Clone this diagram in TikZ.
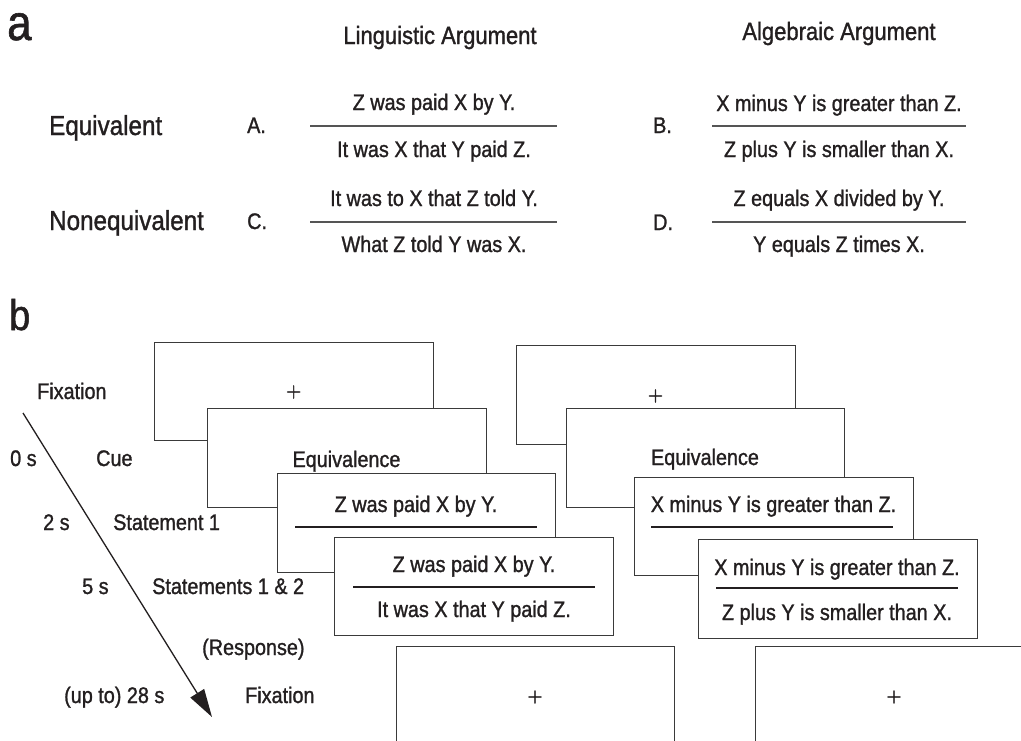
\documentclass[tikz,border=0pt]{standalone}
\usepackage{fontspec}
\setmainfont{Liberation Sans}[FakeStretch=0.88,FakeBold=1.2]
\newfontfamily\plusfont{Latin Modern Roman}[FakeBold=1.5]
\usetikzlibrary{arrows.meta}
\definecolor{ink}{HTML}{231F20}
\definecolor{framec}{HTML}{3A3A3A}
\definecolor{sepc}{HTML}{555555}
\begin{document}
\begin{tikzpicture}[x=1pt,y=-1pt,
  txt/.style={font=\fontsize{22.5}{27}\selectfont, text=ink, inner sep=0pt, anchor=base},
  txtl/.style={txt, anchor=base west},
  hdr/.style={txt, font=\fontsize{25}{30}\selectfont},
  cat/.style={txtl, font=\fontsize{27.5}{33}\selectfont},
  panel/.style={txtl, font=\fontsize{46}{50}\selectfont},
  plus/.style={font=\plusfont\fontsize{21}{25}\selectfont, text=ink, inner sep=0pt, anchor=center},
  scr/.style={draw=framec, line width=1.3pt, fill=white, minimum width=279pt, minimum height=98pt, inner sep=0pt, anchor=north west},
  boxline/.style={draw=ink, line width=2pt},
  sepline/.style={draw=sepc, line width=1.6pt}
]
\useasboundingbox (0,0) rectangle (1021,740);
\clip (0,0) rectangle (1021,740);
\fill[white] (0,0) rectangle (1021,740);

% ---------------- panel a ----------------
\node[panel, font=\fontsize{50}{54}\selectfont] (pa) at (7,40) {a};
\node[hdr] (hl) at (440,44) {Linguistic Argument};
\node[hdr] (ha) at (839,40) {Algebraic Argument};

\node[cat] (eq) at (49,135) {Equivalent};
\node[cat] (neq) at (49,230) {Nonequivalent};

\node[txtl] (la) at (247,133) {A.};
\node[txtl] (lc) at (247,229) {C.};
\node[txtl] (lb) at (653,133) {B.};
\node[txtl] (ld) at (653,230) {D.};

\node[txt] (a1) at (434,110) {Z was paid X by Y.};
\node[txt] (a2) at (434,157) {It was X that Y paid Z.};
\draw[sepline] (310,126) -- (557,126);
\node[txt] (c1) at (434,206) {It was to X that Z told Y.};
\node[txt] (c2) at (434,252) {What Z told Y was X.};
\draw[sepline] (310,222) -- (557,222);

\node[txt] (b1) at (839,111) {X minus Y is greater than Z.};
\node[txt] (b2) at (839,157) {Z plus Y is smaller than X.};
\draw[sepline] (712,126) -- (966,126);
\node[txt] (d1) at (839,206) {Z equals X divided by Y.};
\node[txt] (d2) at (839,252) {Y equals Z times X.};
\draw[sepline] (712,222) -- (966,222);

% ---------------- panel b ----------------
\node[panel, font=\fontsize{43}{47}\selectfont] (pb) at (9,330) {b};

\node[txtl] (fix1) at (37,399) {Fixation};
\node[txtl] (t0) at (10,466) {0 s};
\node[txtl] (cue) at (96,466) {Cue};
\node[txtl] (t2) at (43,530) {2 s};
\node[txtl] (st1) at (113,530) {Statement 1};
\node[txtl] (t5) at (82,594) {5 s};
\node[txtl] (st12) at (152,594) {Statements 1 \& 2};
\node[txtl] (resp) at (202,655) {(Response)};
\node[txtl] (t28) at (64,703) {(up to) 28 s};
\node[txtl] (fix2) at (245,703) {Fixation};

\coordinate (tstart) at (23,413);
\coordinate (tend) at (212,717);
\draw[ink, line width=1.3pt, -{Triangle[length=28pt,width=16pt]}] (tstart) -- (tend);

% left stack
\node[scr, minimum height=98pt] (L1) at (154,342) {};
\node[plus] (L1p) at (293.7,392) {+};
\node[scr, minimum height=99pt] (L2) at (207,408) {};
\node[txt] (L2t) at (346.5,467) {Equivalence};
\node[scr, minimum width=278pt, minimum height=99pt] (L3) at (277,473) {};
\node[txt] (L3t) at (416,512) {Z was paid X by Y.};
\draw[boxline] (295,527) -- (537,527);
\node[scr, minimum height=98pt] (L4) at (334,537) {};
\node[txt] (L4t1) at (474,572) {Z was paid X by Y.};
\draw[boxline] (353,587) -- (595,587);
\node[txt] (L4t2) at (474,617) {It was X that Y paid Z.};
\node[scr, minimum width=278pt, minimum height=120pt] (L5) at (396,646) {};
\node[plus] (L5p) at (535,697) {+};

% right stack
\node[scr, minimum height=99pt] (R1) at (516,345) {};
\node[plus] (R1p) at (655.5,396) {+};
\node[scr, minimum width=278pt, minimum height=99pt] (R2) at (566,408) {};
\node[txt] (R2t) at (705,465) {Equivalence};
\node[scr, minimum height=98pt] (R3) at (634,477) {};
\node[txt] (R3t) at (773.5,512) {X minus Y is greater than Z.};
\draw[boxline] (651,527) -- (893,527);
\node[scr, minimum height=99pt] (R4) at (698,539) {};
\node[txt] (R4t1) at (837,575) {X minus Y is greater than Z.};
\draw[boxline] (716,588) -- (958,588);
\node[txt] (R4t2) at (837,620) {Z plus Y is smaller than X.};
\node[scr, minimum width=279pt, minimum height=120pt] (R5) at (755,646) {};
\node[plus] (R5p) at (894,697) {+};
\end{tikzpicture}
\end{document}
